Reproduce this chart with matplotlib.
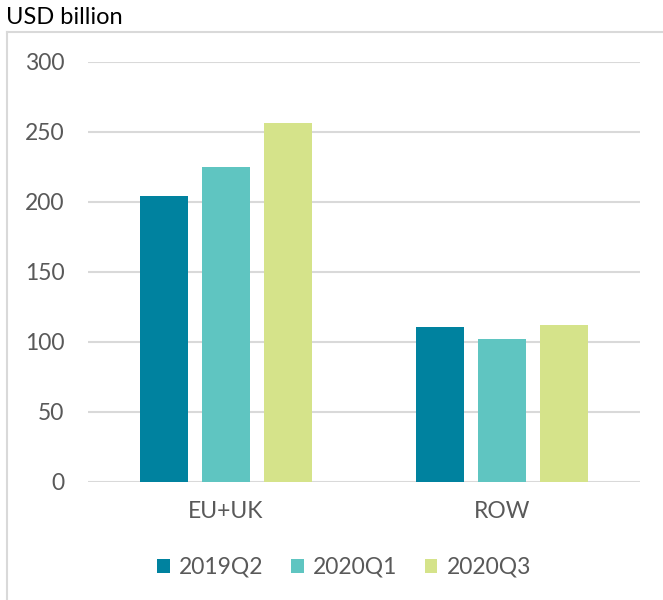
import matplotlib.pyplot as plt
import numpy as np

categories = ['EU+UK', 'ROW']
series = ['2019Q2', '2020Q1', '2020Q3']
values_2019q2 = [204, 111]
values_2020q1 = [225, 102]
values_2020q3 = [256.5, 112]
colors = ['#00829F', '#5FC5C1', '#D5E38A']

plt.rcParams['font.family'] = ['Lato', 'DejaVu Sans']

fig = plt.figure(figsize=(6.63, 6.0), dpi=100)

# grey frame around the chart area (top/left visible)
frame = fig.add_axes([7 / 663, -0.05, 1.0, 1 - 32 / 600 + 0.05])
frame.set_xticks([])
frame.set_yticks([])
for s in frame.spines.values():
    s.set_color('#D9D9D9')
    s.set_linewidth(1.5)
frame.set_zorder(0)

ax = fig.add_axes([88 / 663, 1 - 482 / 600, (640 - 88) / 663, (482 - 62) / 600])
ax.set_zorder(1)
ax.patch.set_alpha(0)

x = np.arange(len(categories))
w = 0.174
step = 0.223
all_vals = [values_2019q2, values_2020q1, values_2020q3]
for i, (name, vals) in enumerate(zip(series, all_vals)):
    ax.bar(x + (i - 1) * step, vals, width=w, color=colors[i], label=name, zorder=3)

ax.set_xlim(-0.5, 1.5)
ax.set_ylim(0, 300)
ax.set_yticks(range(0, 301, 50))
ax.yaxis.grid(True, color='#D9D9D9', linewidth=1.5, zorder=0)
for s in ax.spines.values():
    s.set_visible(False)
ax.tick_params(axis='both', length=0, labelsize=16.5, colors='#595959')
ax.tick_params(axis='y', pad=17)
ax.tick_params(axis='x', pad=14)
ax.set_xticks(x)
ax.set_xticklabels(categories)

fig.text(6 / 663, 1 - 18 / 600, 'USD billion', fontsize=17, color='black', va='center', ha='left')

leg = ax.legend(loc='center', bbox_to_anchor=(0.464, -0.203), ncol=3, frameon=False,
                fontsize=16.5, handlelength=0.55, handleheight=0.55, handletextpad=0.4,
                columnspacing=1.2)
for t in leg.get_texts():
    t.set_color('#595959')

fig.savefig('out.png', dpi=100)
